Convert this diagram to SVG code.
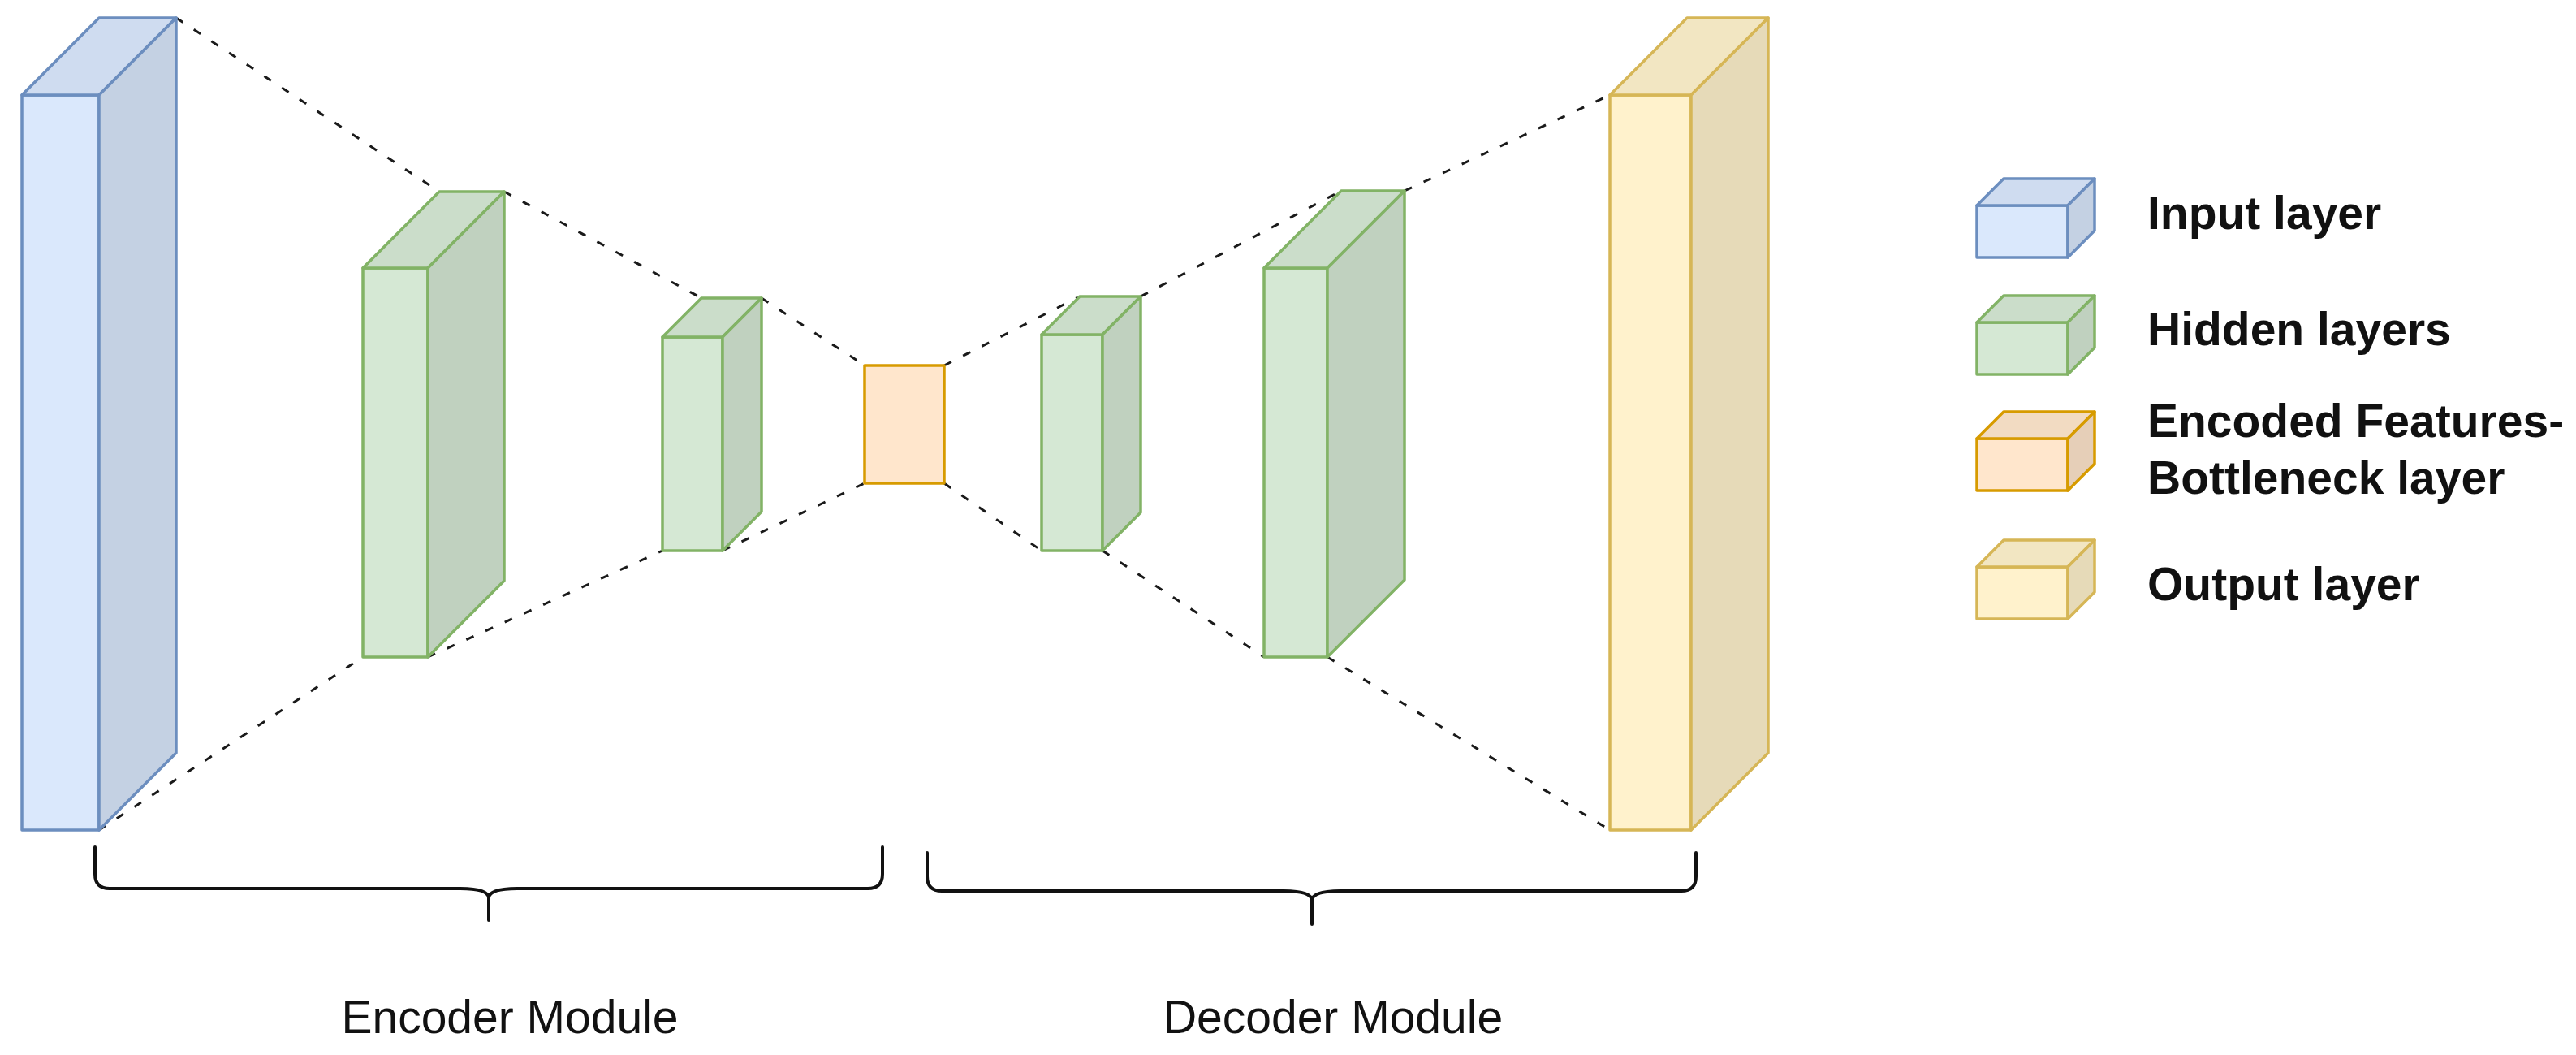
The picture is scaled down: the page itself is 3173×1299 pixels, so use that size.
<svg xmlns="http://www.w3.org/2000/svg" width="3173" height="1299" viewBox="0 0 3173 1299">
<style>
.blue .f{fill:#dae8fc}.blue .t{fill:#cfdcf0}.blue .s{fill:#c4d1e3}.blue .f,.blue .t,.blue .s{stroke:#6c8ebf}
.green .f{fill:#d5e8d4}.green .t{fill:#cbddca}.green .s{fill:#c0d1bf}.green .f,.green .t,.green .s{stroke:#82b366}
.orange .f{fill:#ffe6cc}.orange .t{fill:#f2dbc2}.orange .s{fill:#e6cfb8}.orange .f,.orange .t,.orange .s{stroke:#d79b00}
.yellow .f{fill:#fff2cc}.yellow .t{fill:#f2e6c2}.yellow .s{fill:#e6dab8}.yellow .f,.yellow .t,.yellow .s{stroke:#d6b656}
.f,.t,.s{stroke-width:3.5;stroke-linejoin:round}
.conn line{stroke:#1a1a1a;stroke-width:3;stroke-dasharray:10 16;fill:none}
.brace{fill:none;stroke:#111;stroke-width:4;stroke-linecap:round;stroke-linejoin:round}
.lbl{font-family:"Liberation Sans",Arial,sans-serif;font-size:57px;fill:#111;stroke:none}
.leg{font-family:"Liberation Sans",Arial,sans-serif;font-size:57px;font-weight:bold;fill:#111;stroke:none}
</style>
<rect width="3173" height="1299" fill="#fff"/>

<g id="connectors" class="conn">
<line x1="217" y1="22" x2="541" y2="236"/>
<line x1="621" y1="236" x2="864" y2="367"/>
<line x1="938" y1="367" x2="1065" y2="450"/>
<line x1="122" y1="1022" x2="447" y2="809"/>
<line x1="527" y1="809" x2="816" y2="678"/>
<line x1="890" y1="678" x2="1065" y2="595"/>
<line x1="1163" y1="450" x2="1330" y2="365"/>
<line x1="1405" y1="365" x2="1652" y2="235"/>
<line x1="1730" y1="235" x2="1983" y2="117"/>
<line x1="1163" y1="595" x2="1283" y2="678"/>
<line x1="1358" y1="678" x2="1557" y2="809"/>
<line x1="1635" y1="809" x2="1983" y2="1022"/>
</g>

<g id="input-layer" class="blue">
<rect class="f" x="27" y="117" width="95" height="905"/>
<polygon class="t" points="27,117 122,22 217,22 122,117"/>
<polygon class="s" points="122,117 217,22 217,927 122,1022"/>
</g>

<g id="hidden-layer-1" class="green">
<rect class="f" x="447" y="330" width="80" height="479"/>
<polygon class="t" points="447,330 541,236 621,236 527,330"/>
<polygon class="s" points="527,330 621,236 621,715 527,809"/>
</g>

<g id="hidden-layer-2" class="green">
<rect class="f" x="816" y="415" width="74" height="263"/>
<polygon class="t" points="816,415 864,367 938,367 890,415"/>
<polygon class="s" points="890,415 938,367 938,630 890,678"/>
</g>

<g id="bottleneck" class="orange">
<rect class="f" x="1065" y="450" width="98" height="145"/>
</g>

<g id="hidden-layer-3" class="green">
<rect class="f" x="1283" y="412" width="75" height="266"/>
<polygon class="t" points="1283,412 1330,365 1405,365 1358,412"/>
<polygon class="s" points="1358,412 1405,365 1405,631 1358,678"/>
</g>

<g id="hidden-layer-4" class="green">
<rect class="f" x="1557" y="330" width="78" height="479"/>
<polygon class="t" points="1557,330 1652,235 1730,235 1635,330"/>
<polygon class="s" points="1635,330 1730,235 1730,714 1635,809"/>
</g>

<g id="output-layer" class="yellow">
<rect class="f" x="1983" y="117" width="100" height="905"/>
<polygon class="t" points="1983,117 2078,22 2178,22 2083,117"/>
<polygon class="s" points="2083,117 2178,22 2178,927 2083,1022"/>
</g>

<g id="encoder-brace">
<path class="brace" d="M117,1043 L117,1076 Q117,1094 135,1094 L567,1094 C590,1094 602,1098 602,1106 C602,1098 614,1094 637,1094 L1069,1094 Q1087,1094 1087,1076 L1087,1043"/>
<path class="brace" d="M602,1104 L602,1133"/>
<text class="lbl" x="628" y="1272" text-anchor="middle">Encoder Module</text>
</g>

<g id="decoder-brace">
<path class="brace" d="M1142,1050 L1142,1079 Q1142,1097 1160,1097 L1581,1097 C1604,1097 1616,1101 1616,1109 C1616,1101 1628,1097 1651,1097 L2071,1097 Q2089,1097 2089,1079 L2089,1050"/>
<path class="brace" d="M1616,1107 L1616,1138"/>
<text class="lbl" x="1642" y="1272" text-anchor="middle">Decoder Module</text>
</g>

<g id="legend">
<g id="legend-input" class="blue">
<rect class="f" x="2435" y="253" width="112" height="64"/>
<polygon class="t" points="2435,253 2468,220 2580,220 2547,253"/>
<polygon class="s" points="2547,253 2580,220 2580,284 2547,317"/>
<text class="leg" x="2645" y="282">Input layer</text>
</g>
<g id="legend-hidden" class="green">
<rect class="f" x="2435" y="397" width="112" height="64"/>
<polygon class="t" points="2435,397 2468,364 2580,364 2547,397"/>
<polygon class="s" points="2547,397 2580,364 2580,428 2547,461"/>
<text class="leg" x="2645" y="425">Hidden layers</text>
</g>
<g id="legend-bottleneck" class="orange">
<rect class="f" x="2435" y="540" width="112" height="64"/>
<polygon class="t" points="2435,540 2468,507 2580,507 2547,540"/>
<polygon class="s" points="2547,540 2580,507 2580,571 2547,604"/>
<text class="leg" x="2645" y="538">Encoded Features-</text>
<text class="leg" x="2645" y="608">Bottleneck layer</text>
</g>
<g id="legend-output" class="yellow">
<rect class="f" x="2435" y="698" width="112" height="64"/>
<polygon class="t" points="2435,698 2468,665 2580,665 2547,698"/>
<polygon class="s" points="2547,698 2580,665 2580,729 2547,762"/>
<text class="leg" x="2645" y="739">Output layer</text>
</g>
</g>
</svg>
